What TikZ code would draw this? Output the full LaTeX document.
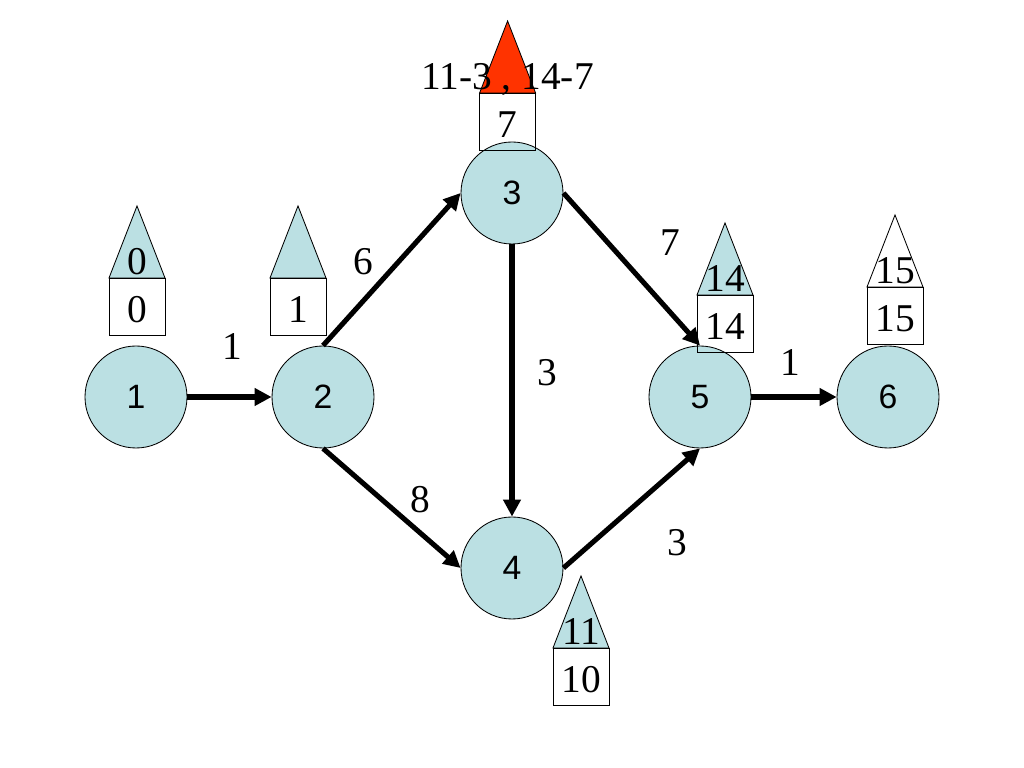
\documentclass[tikz,border=0pt]{standalone}
\usepackage{fontspec}
\setmainfont{Liberation Serif}
\newfontfamily\circlefont{Liberation Sans}
\usepackage{xcolor}
\usepackage{tikz}
\usetikzlibrary{arrows.meta}
\definecolor{nodeblue}{RGB}{187,224,227}
\definecolor{critred}{RGB}{255,51,0}
\tikzset{
	event/.style={circle, draw, line width=0.6pt, fill=nodeblue, minimum size=2.55cm, inner sep=0pt, font=\circlefont\fontsize{24}{26}\selectfont},
	act/.style={line width=3.6pt, -{Triangle[length=12pt,width=12pt]}},
	num/.style={font=\fontsize{28}{30}\selectfont, inner sep=0pt},
}

\begin{document}
\begin{tikzpicture}
   		\useasboundingbox (0,0) rectangle (25.6,19.2);
   		\node[event] (N1) at (3.4, 9.275) {1};
   		\node[event] (N2) at (8.075, 9.275) {2};
   		\node[event] (N3) at (12.8, 14.375) {3};
   		\node[event] (N4) at (12.8, 5.0) {4};
   		\node[event] (N5) at (17.5, 9.275) {5};
   		\node[event] (N6) at (22.2, 9.275) {6};
   		
   		\draw[act] (N1) -- (N2);
   		\draw[act] (N2.north) -- (N3.west);
   		\draw[act] (N2.south) -- (N4.west);
   		\draw[act] (N3.south) -- (N4.north);
   		\draw[act] (N3.east) -- (N5.north);
   		\draw[act] (N4.east) -- (N5.south);
   		\draw[act] (N5) -- (N6);
   		\foreach \n/\x/\y/\w in {
   			12/5.8/10.525/1,
   			23/9.075/12.65/6,
   			24/10.5/6.7/8,
   			34/13.675/9.875/3,
   			35/16.75/13.125/7,
   			45/16.925/5.625/3,
   			56/19.75/10.125/1%
   		}{
   			\node[num] (w\n) at (\x,\y) {\w};
   		}
   		\foreach \n/\x/\y/\top/\bot/\col in {
   			1/3.425/12.25/0/0/nodeblue,
   			2/7.45/12.25//1/nodeblue,
   			3/12.69/16.875/{11-3 , 14-7}/7/critred,
   			4/14.525/3.0/11/10/nodeblue,
   			5/18.125/11.825/14/14/nodeblue,
   			6/22.375/12.025/15/15/white%
   		}{
   			\filldraw[fill=\col, line width=0.6pt] (\x-0.7,\y) -- (\x,\y+1.8) -- (\x+0.7,\y) -- cycle;
   			\draw[line width=0.6pt] (\x-0.7,\y) rectangle (\x+0.7,\y-1.425);
   			\node[num, anchor=base] (es\n) at (\x,\y+0.08) {\top};
   			\node[num, anchor=base] (ls\n) at (\x,\y-1.12) {\bot};
   		}
   	\end{tikzpicture}
\end{document}
